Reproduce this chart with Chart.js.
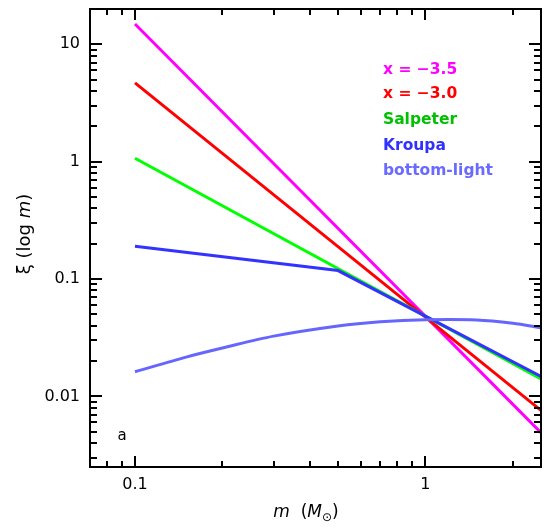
<!DOCTYPE html>
<html>
<head>
<meta charset="utf-8">
<script src="https://cdn.jsdelivr.net/npm/chart.js@4"></script>
<style>
  html, body { margin: 0; padding: 0; background: #fff; }
  #wrap { width: 544px; height: 529px; }
</style>
</head>
<body>
<div id="wrap"><canvas id="imfChart" width="544" height="529"></canvas></div>
<script>
// series names and colours
const seriesNames = ['x = \u22123.5', 'x = \u22123.0', 'Salpeter', 'Kroupa', 'bottom-light'];
const lineColors = ['#ff00ff', '#ff0000', '#00ff00', '#3333ff', '#6666ff'];
const textColors = ['#ff00ff', '#ff0000', '#00c000', '#3030ff', '#6a6aff'];

// masses (M_sun) and xi(log m)
const mSteep = [0.1, 2.5];
const xiSteep35 = [14.9, 0.0049];
const xiSteep30 = [4.7, 0.0076];
const xiSalpeter = [1.07, 0.0141];

const mKroupa = [0.1, 0.5, 2.5];
const xiKroupa = [0.19, 0.118, 0.0148];

const mBottomLight = [0.1, 0.15, 0.2, 0.3, 0.5, 0.7, 1.0, 1.5, 2.0, 2.5];
const xiBottomLight = [0.0162, 0.0216, 0.0258, 0.0326, 0.0398, 0.0432, 0.0449, 0.0447, 0.0419, 0.0384];

// tick labels
const xTickValues = [0.1, 1];
const xTickLabels = ['0.1', '1'];
const yTickValues = [0.01, 0.1, 1, 10];
const yTickLabels = ['0.01', '0.1', '1', '10'];

function pts(xs, ys) {
  return xs.map((x, i) => ({ x: x, y: ys[i] }));
}

const seriesData = [
  pts(mSteep, xiSteep35),
  pts(mSteep, xiSteep30),
  pts(mSteep, xiSalpeter),
  pts(mKroupa, xiKroupa),
  pts(mBottomLight, xiBottomLight)
];

const datasets = seriesData.map((d, i) => ({
  label: seriesNames[i],
  data: d,
  borderColor: lineColors[i],
  backgroundColor: lineColors[i],
  borderWidth: 3,
  pointRadius: 0,
  fill: false,
  tension: i === 4 ? 0.3 : 0,
  order: 5 - i
}));

function logMinor(min, max) {
  const out = [];
  for (let e = Math.floor(Math.log10(min)) ; e <= Math.ceil(Math.log10(max)); e++) {
    for (let k = 1; k <= 9; k++) {
      const v = k * Math.pow(10, e);
      if (v >= min * 0.999 && v <= max * 1.001) out.push({ v: v, major: k === 1 });
    }
  }
  return out;
}

// frame, inward ticks, titles, legend text
const decorPlugin = {
  id: 'decor',
  afterDraw(chart) {
    const ctx = chart.ctx;
    const a = chart.chartArea;
    const xs = chart.scales.x, ys = chart.scales.y;
    ctx.save();
    ctx.strokeStyle = '#000';
    ctx.lineWidth = 2;
    ctx.lineCap = 'butt';
    ctx.strokeRect(a.left, a.top, a.right - a.left, a.bottom - a.top);

    ctx.beginPath();
    logMinor(xs.min, xs.max).forEach(t => {
      const px = Math.round(xs.getPixelForValue(t.v));
      const len = t.major ? 11 : 6;
      ctx.moveTo(px, a.bottom); ctx.lineTo(px, a.bottom - len);
      ctx.moveTo(px, a.top); ctx.lineTo(px, a.top + len);
    });
    logMinor(ys.min, ys.max).forEach(t => {
      const py = Math.round(ys.getPixelForValue(t.v));
      const len = t.major ? 12 : 7;
      ctx.moveTo(a.left, py); ctx.lineTo(a.left + len, py);
      ctx.moveTo(a.right, py); ctx.lineTo(a.right - len, py);
    });
    ctx.stroke();

    // legend text
    ctx.font = 'bold 15.5px "DejaVu Sans"';
    ctx.textAlign = 'left';
    ctx.textBaseline = 'alphabetic';
    const legendY = [74, 98, 124, 150, 175];
    seriesNames.forEach((n, i) => {
      ctx.fillStyle = textColors[i];
      ctx.fillText(n, 383, legendY[i]);
    });

    // panel letter
    ctx.fillStyle = '#000';
    ctx.font = '15px "DejaVu Sans"';
    ctx.textAlign = 'center';
    ctx.fillText('a', 122, 440);

    // x title: m (M_sun)
    const parts = [
      { t: 'm', f: 'italic 17px "DejaVu Sans"', dy: 0 },
      { t: '  (', f: '17px "DejaVu Sans"', dy: 0 },
      { t: 'M', f: 'italic 17px "DejaVu Sans"', dy: 0 },
      { t: '\u2299', f: '12px "DejaVu Sans"', dy: 4 },
      { t: ')', f: '17px "DejaVu Sans"', dy: 0 }
    ];
    ctx.textAlign = 'left';
    let w = 0;
    parts.forEach(p => { ctx.font = p.f; w += ctx.measureText(p.t).width; });
    let x0 = 306 - w / 2;
    parts.forEach(p => {
      ctx.font = p.f;
      ctx.fillText(p.t, x0, 517 + p.dy);
      x0 += ctx.measureText(p.t).width;
    });

    // y title: xi (log m)
    const yparts = [
      { t: '\u03be (log ', f: '18px "DejaVu Sans"' },
      { t: 'm', f: 'italic 18px "DejaVu Sans"' },
      { t: ')', f: '18px "DejaVu Sans"' }
    ];
    ctx.translate(30, 234);
    ctx.rotate(-Math.PI / 2);
    w = 0;
    yparts.forEach(p => { ctx.font = p.f; w += ctx.measureText(p.t).width; });
    x0 = -w / 2;
    yparts.forEach(p => {
      ctx.font = p.f;
      ctx.fillText(p.t, x0, 0);
      x0 += ctx.measureText(p.t).width;
    });
    ctx.restore();
  }
};

const ctxImf = document.getElementById('imfChart').getContext('2d');
const chartImf = new Chart(ctxImf, {
  type: 'line',
  data: { datasets: datasets },
  options: {
    responsive: false,
    animation: false,
    layout: { padding: { left: 0, right: 3, top: 9, bottom: 0 } },
    plugins: {
      legend: { display: false },
      tooltip: { enabled: false }
    },
    scales: {
      x: {
        type: 'logarithmic',
        min: 0.07,
        max: 2.5,
        grid: { display: false, drawTicks: false },
        border: { display: false },
        afterBuildTicks: s => { s.ticks = xTickValues.map(v => ({ value: v })); },
        afterFit: s => { s.height = 62; s.paddingLeft = 0; s.paddingRight = 0; },
        ticks: {
          autoSkip: false,
          maxRotation: 0,
          padding: 8,
          color: '#000',
          font: { family: 'DejaVu Sans', size: 16 },
          callback: (v) => xTickLabels[xTickValues.indexOf(v)] || ''
        }
      },
      y: {
        type: 'logarithmic',
        min: 0.0025,
        max: 20,
        grid: { display: false, drawTicks: false },
        border: { display: false },
        afterBuildTicks: s => { s.ticks = yTickValues.map(v => ({ value: v })); },
        afterFit: s => { s.width = 90; s.paddingTop = 0; s.paddingBottom = 0; },
        ticks: {
          autoSkip: false,
          padding: 10,
          color: '#000',
          font: { family: 'DejaVu Sans', size: 16 },
          callback: (v) => yTickLabels[yTickValues.indexOf(v)] || ''
        }
      }
    }
  },
  plugins: [decorPlugin]
});
</script>
</body>
</html>
